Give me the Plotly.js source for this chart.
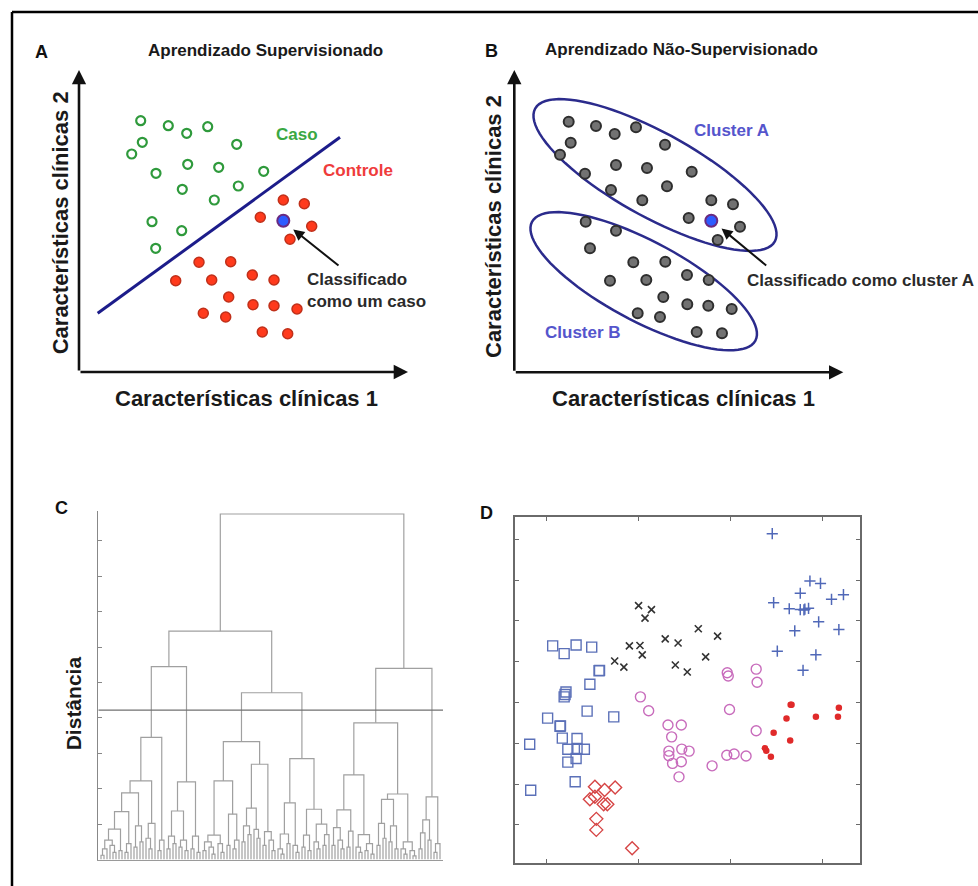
<!DOCTYPE html>
<html><head><meta charset="utf-8">
<script src="https://cdn.plot.ly/plotly-3.0.1.min.js"></script>
<style>html,body{margin:0;padding:0;background:#fff}#chart{width:978px;height:886px}</style>
</head><body><div id="chart"></div>
<script>
// ---------- Panel A : supervised learning ----------
const caseX = [6.17,8.93,10.77,12.87,6.33,5.27,15.77,7.70,10.87,13.97,18.47,10.33,15.93,13.53,7.30,10.27,7.67];
const caseY = [25.13,24.63,23.87,24.53,22.97,21.80,22.77,19.87,20.77,20.47,20.07,18.27,18.60,17.20,15.03,14.13,12.37];
const ctrlX = [20.43,22.53,18.13,23.27,21.10,12.00,15.17,9.67,13.27,17.33,19.50,14.97,17.40,19.50,21.80,12.43,14.67,18.33,20.87];
const ctrlY = [17.20,16.83,15.47,14.57,13.27,10.97,11.03,9.13,9.20,9.70,9.20,7.50,6.73,6.63,6.30,5.87,5.50,4.00,3.83];
const newPointA = [20.43, 15.13];
const boundaryX = [1.87, 26.10];
const boundaryY = [5.87, 23.47];

// ---------- Panel B : unsupervised learning ----------
const clusterAX = [5.44,8.17,10.04,12.17,5.64,4.57,15.07,7.07,10.17,13.27,17.74,9.67,15.27,12.80,19.70,21.87,17.44,22.57,20.34];
const clusterAY = [25.06,24.63,23.83,24.50,22.96,21.76,22.76,19.86,20.73,20.43,20.06,18.23,18.60,17.20,17.20,16.80,15.43,14.56,13.23];
const clusterBX = [7.14,10.17,7.57,11.90,15.10,9.57,13.20,17.27,19.44,14.90,17.30,19.40,21.74,12.34,14.57,18.24,20.77];
const clusterBY = [15.06,14.16,12.40,11.00,11.06,9.16,9.23,9.73,9.23,7.53,6.80,6.66,6.33,5.90,5.53,4.03,3.90];
const newPointB = [19.70, 15.16];
// ellipse: centre x, centre y, semi-major, semi-minor, angle (deg)
const ellipseA = [14.07, 19.73, 13.7, 4.2, -29];
const ellipseB = [12.94, 9.11, 12.65, 4.0, -28];

// ---------- Panel C : dendrogram (node = [height, left, right], leaf = 0) ----------
const g1 = [0.55,[0.3,[0.12,0,0],0],[0.4,0,[0.2,0,0]]];
const g2 = [0.25,0,0];
const g3 = [0.45,[0.2,0,0],0];
const g4 = [0.95,[0.35,0,0],[0.5,0,0]];
const g5 = [1.02,[0.6,0,[0.3,0,0]],0];
const g6 = [0.55,[0.25,0,0],0];
const g7 = [0.66,[0.3,0,0],[0.45,0,0]];
const g8 = [0.55,[0.35,0,0],[0.25,0,0]];
const g9 = [0.66,[0.3,0,0],[0.2,0,0]];
const g10 = [0.5,[0.25,0,0],[0.35,0,[0.15,0,0]]];
const g11 = [0.45,0,[0.2,0,0]];
const g12 = [0.4,0,0];
const g13 = [0.55,[0.3,0,0],0];
const g14 = [0.95,[0.5,0,0],[0.7,0,0]];
const g15 = [0.85,0,[0.6,0,0]];
const g16 = [0.79,[0.4,0,0],[0.55,0,[0.25,0,0]]];
const g17 = [0.72,[0.3,0,[0.15,0,0]],[0.45,0,0]];
const g18 = [0.4,0,[0.2,0,0]];
const g19 = [0.69,[0.35,0,0],[0.25,0,0]];
const g20 = [1.0,[0.5,0,[0.3,0,0]],[0.7,[0.4,0,0],0]];
const g21 = [1.4,[0.9,[0.4,0,0],[0.55,0,[0.3,0,0]]],[0.8,[0.35,0,0],0]];
const g22 = [0.7,[0.35,0,[0.2,0,0]],[0.45,[0.25,0,0],[0.15,0,0]]];
const g23 = [1.70,[1.02,[0.4,0,0],[0.6,0,0]],[0.95,[0.5,0,0],[0.3,0,0]]];
const g24 = [0.5,[0.3,0,[0.15,0,0]],[0.25,0,[0.1,0,0]]];
const g25 = [1.12,[0.75,[0.3,0,0],0],[0.55,0,0]];
const g26 = [0.45,[0.2,0,0],0];
const LLL = [3.45,[2.22,[1.88,[1.35,[0.86,g1,g2],g3],g4],g5],g6];
const LLR = [2.19,[1.37,g7,g8],g9];
const LRL = [3.33,[2.22,[0.69,g10,g11],[1.28,g12,g13]],[2.69,[1.45,g14,g15],g16]];
const LRR = [2.85,[1.6,g17,g18],[1.42,g19,g20]];
const RL = [3.86,[2.39,g21,g22],[1.85,g23,g24]];
const RR = [1.77,g25,g26];
const dendroRoot = [9.76,[6.45,[5.45,LLL,LLR],[4.71,LRL,LRR]],[5.40,RL,RR]];
const cutHeight = 4.22;

// ---------- Panel D : clusters ----------
const sqX = [1.065,1.19,1.32,1.49,1.57,1.575,1.47,1.21,1.19,1.20,1.44,1.73,1.01,1.145,1.15,1.17,1.33,0.815,1.23,1.33,1.41,1.32,1.23,1.31,0.826];
const sqY = [5.39,5.20,5.41,5.36,4.78,4.79,4.45,4.26,4.14,4.20,3.79,3.65,3.62,3.42,3.43,3.13,3.12,2.98,2.855,2.855,2.855,2.63,2.54,2.06,1.85];
const xX = [2.00,2.14,2.07,2.65,2.86,2.29,2.43,1.90,2.015,2.04,2.73,1.74,1.84,2.40,2.53];
const xY = [6.375,6.28,6.07,5.81,5.63,5.56,5.46,5.39,5.40,5.17,5.12,5.02,4.87,4.92,4.75];
const plusX = [3.455,3.865,3.98,3.76,4.10,4.23,3.47,3.64,3.76,3.81,3.85,3.80,3.96,3.70,4.18,3.51,3.93,3.79];
const plusY = [8.14,6.98,6.92,6.68,6.53,6.645,6.45,6.30,6.28,6.29,6.31,6.27,5.98,5.76,5.79,5.26,5.17,4.79];
const ringX = [2.965,2.976,3.28,3.29,2.02,2.11,2.99,2.32,2.465,3.28,2.36,2.33,2.47,2.55,2.33,2.37,2.465,2.44,2.80,2.96,3.04,3.17];
const ringY = [4.73,4.65,4.82,4.50,4.14,3.80,3.83,3.45,3.45,3.31,3.16,2.81,2.86,2.81,2.70,2.51,2.55,2.18,2.45,2.71,2.74,2.69];
const dotX = [3.655,3.665,4.18,3.61,3.93,4.17,3.47,3.65,3.375,3.39,3.44];
const dotY = [3.95,3.95,3.875,3.61,3.65,3.65,3.26,3.07,2.88,2.82,2.67];
const diaX = [1.525,1.63,1.745,1.47,1.525,1.62,1.66,1.54,1.54,1.93];
const diaY = [1.94,1.86,1.92,1.63,1.69,1.51,1.51,1.15,0.88,0.43];

// ---------- helpers ----------
const W = 978, H = 886;
const fx = p => p / W, fy = p => 1 - p / H;
const FONT = 'Liberation Sans, Arial, sans-serif';

function ellipsePath(e) {
  const [cx, cy, a, b, deg] = e;
  const t = deg * Math.PI / 180, c = Math.cos(t), s = Math.sin(t);
  let d = '';
  for (let k = 0; k <= 90; k++) {
    const u = 2 * Math.PI * k / 90;
    const x = cx + a * c * Math.cos(u) - b * s * Math.sin(u);
    const y = cy + a * s * Math.cos(u) + b * c * Math.sin(u);
    d += (k ? 'L' : 'M') + x.toFixed(4) + ',' + y.toFixed(4);
  }
  return d + 'Z';
}

function buildDendro(tree) {
  const xs = [], ys = [];
  let leaf = 0;
  function walk(n) {
    if (n === 0) return {x: leaf++, h: 0};
    const [h, l, r] = n;
    const L = walk(l), R = walk(r);
    xs.push(L.x, L.x, R.x, R.x, null);
    ys.push(L.h, h, h, R.h, null);
    return {x: (L.x + R.x) / 2, h: h};
  }
  walk(tree);
  return {xs, ys, n: leaf};
}
const dendro = buildDendro(dendroRoot);

// ---------- traces ----------
const traces = [
  {x: caseX, y: caseY, xaxis: 'x', yaxis: 'y', mode: 'markers', type: 'scatter',
   marker: {symbol: 'circle-open', size: 9, color: '#2f9a3c', line: {width: 2.2}}},
  {x: ctrlX, y: ctrlY, xaxis: 'x', yaxis: 'y', mode: 'markers', type: 'scatter',
   marker: {symbol: 'circle', size: 10, color: '#ff3a1c', line: {color: '#c0301a', width: 1.5}}},
  {x: [newPointA[0]], y: [newPointA[1]], xaxis: 'x', yaxis: 'y', mode: 'markers', type: 'scatter',
   marker: {symbol: 'circle', size: 12, color: '#2d5bff', line: {color: '#6a2a80', width: 2}}},
  {x: clusterAX.concat(clusterBX), y: clusterAY.concat(clusterBY), xaxis: 'x2', yaxis: 'y2', mode: 'markers', type: 'scatter',
   marker: {symbol: 'circle', size: 10, color: '#727272', line: {color: '#2e2e2e', width: 2}}},
  {x: [newPointB[0]], y: [newPointB[1]], xaxis: 'x2', yaxis: 'y2', mode: 'markers', type: 'scatter',
   marker: {symbol: 'circle', size: 12, color: '#2d5bff', line: {color: '#6a2a80', width: 2}}},
  {x: dendro.xs, y: dendro.ys, xaxis: 'x3', yaxis: 'y3', mode: 'lines', type: 'scatter',
   line: {color: '#a0a0a0', width: 1.2}, connectgaps: false},
  {x: sqX, y: sqY, xaxis: 'x4', yaxis: 'y4', mode: 'markers', type: 'scatter',
   marker: {symbol: 'square-open', size: 10, color: '#5b70b8', line: {width: 1.4}}},
  {x: xX, y: xY, xaxis: 'x4', yaxis: 'y4', mode: 'markers', type: 'scatter',
   marker: {symbol: 'x-thin-open', size: 7, color: '#333333', line: {width: 1.6}}},
  {x: plusX, y: plusY, xaxis: 'x4', yaxis: 'y4', mode: 'markers', type: 'scatter',
   marker: {symbol: 'cross-thin-open', size: 8, color: '#5068b8', line: {width: 1.5}}},
  {x: ringX, y: ringY, xaxis: 'x4', yaxis: 'y4', mode: 'markers', type: 'scatter',
   marker: {symbol: 'circle-open', size: 10, color: '#c86cbc', line: {width: 1.4}}},
  {x: dotX, y: dotY, xaxis: 'x4', yaxis: 'y4', mode: 'markers', type: 'scatter',
   marker: {symbol: 'circle', size: 6.5, color: '#e02a2a'}},
  {x: diaX, y: diaY, xaxis: 'x4', yaxis: 'y4', mode: 'markers', type: 'scatter',
   marker: {symbol: 'diamond-open', size: 10, color: '#d64545', line: {width: 1.4}}}
];

// ---------- annotations ----------
function txt(x, y, text, size, opts) {
  return Object.assign({x: fx(x), y: fy(y), xref: 'paper', yref: 'paper', text: text, showarrow: false,
    xanchor: 'center', yanchor: 'middle', font: {family: FONT, size: size, color: '#1a1a1a'}}, opts || {});
}
function axisArrow(xr, yr, x, y) {
  return {x: x, y: y, ax: 0, ay: 0, xref: xr, yref: yr, axref: xr, ayref: yr, text: '', showarrow: true,
    arrowhead: 2, arrowsize: 1.1, arrowwidth: 2.6, arrowcolor: '#111', standoff: 0, startstandoff: 0};
}
function pointer(xr, yr, x, y, ax, ay) {
  return {x: x, y: y, ax: ax, ay: ay, xref: xr, yref: yr, axref: xr, ayref: yr, text: '', showarrow: true,
    arrowhead: 2, arrowsize: 1.1, arrowwidth: 2, arrowcolor: '#111', standoff: 2};
}
function dtxt(xr, yr, x, y, text, size, color, opts) {
  return Object.assign({x: x, y: y, xref: xr, yref: yr, text: '<b>' + text + '</b>', showarrow: false,
    xanchor: 'center', yanchor: 'middle', font: {family: FONT, size: size, color: color}}, opts || {});
}

const annotations = [
  txt(41.7, 51.7, '<b>A</b>', 18, {font: {family: FONT, size: 18, color: '#111'}}),
  txt(491.7, 50.7, '<b>B</b>', 18, {font: {family: FONT, size: 18, color: '#111'}}),
  txt(61.7, 508.3, '<b>C</b>', 18, {font: {family: FONT, size: 18, color: '#111'}}),
  txt(486.7, 513.3, '<b>D</b>', 18, {font: {family: FONT, size: 18, color: '#111'}}),
  txt(265.7, 50, '<b>Aprendizado Supervisionado</b>', 17),
  txt(681.7, 49.3, '<b>Aprendizado Não-Supervisionado</b>', 17),
  txt(246.7, 398.3, '<b>Características clínicas 1</b>', 22),
  txt(60, 223.3, '<b>Características clínicas 2</b>', 22, {textangle: -90}),
  txt(683.3, 398.3, '<b>Características clínicas 1</b>', 22),
  txt(493.3, 226.7, '<b>Características clínicas 2</b>', 22, {textangle: -90}),
  txt(73.3, 703, '<b>Distância</b>', 21, {textangle: -90}),
  axisArrow('x', 'y', 32.9, 0), axisArrow('x', 'y', 0, 30.2),
  axisArrow('x2', 'y2', 32.9, 0), axisArrow('x2', 'y2', 0, 30.23),
  pointer('x', 'y', 21.27, 14.37, 26.1, 10.53),
  pointer('x2', 'y2', 20.57, 14.5, 25.34, 10.56),
  dtxt('x', 'y', 21.77, 23.7, 'Caso', 17, '#3aa843'),
  dtxt('x', 'y', 27.93, 20.1, 'Controle', 17, '#ef3b3b'),
  dtxt('x', 'y', 22.6, 8.12, 'Classificado<br>como um caso', 17, '#2a2a2a', {xanchor: 'left', align: 'left'}),
  dtxt('x2', 'y2', 21.67, 24.13, 'Cluster A', 17, '#5555cc'),
  dtxt('x2', 'y2', 6.9, 3.96, 'Cluster B', 17, '#5555cc'),
  dtxt('x2', 'y2', 23.07, 9.23, 'Classificado como cluster A', 17, '#2a2a2a', {xanchor: 'left'})
];

const shapes = [
  {type: 'line', xref: 'x', yref: 'y', x0: boundaryX[0], y0: boundaryY[0], x1: boundaryX[1], y1: boundaryY[1],
   line: {color: '#1c1c8a', width: 3}, layer: 'below'},
  {type: 'path', xref: 'x2', yref: 'y2', path: ellipsePath(ellipseA), line: {color: '#2b2b8c', width: 2.5}, layer: 'below'},
  {type: 'path', xref: 'x2', yref: 'y2', path: ellipsePath(ellipseB), line: {color: '#2b2b8c', width: 2.5}, layer: 'below'},
  {type: 'line', xref: 'x3', yref: 'y3', x0: -0.9, x1: dendro.n, y0: cutHeight, y1: cutHeight,
   line: {color: '#707070', width: 1.3}},
  {type: 'line', xref: 'paper', yref: 'paper', x0: fx(12), x1: fx(990), y0: fy(12), y1: fy(12), line: {color: '#000', width: 2.5}},
  {type: 'line', xref: 'paper', yref: 'paper', x0: fx(12), x1: fx(12), y0: fy(12), y1: fy(900), line: {color: '#000', width: 2.5}}
];

const hidden = {visible: false, showgrid: false, zeroline: false, fixedrange: true};
const layout = {
  width: W, height: H, margin: {l: 0, r: 0, t: 0, b: 0, pad: 0},
  paper_bgcolor: '#fff', plot_bgcolor: 'rgba(0,0,0,0)', showlegend: false,
  xaxis: Object.assign({domain: [fx(79), fx(410)], range: [0, 33.1], anchor: 'y'}, hidden),
  yaxis: Object.assign({domain: [fy(372), fy(68)], range: [0, 30.4], anchor: 'x'}, hidden),
  xaxis2: Object.assign({domain: [fx(514.3), fx(845)], range: [0, 33.07], anchor: 'y2'}, hidden),
  yaxis2: Object.assign({domain: [fy(372.3), fy(68)], range: [0, 30.43], anchor: 'x2'}, hidden),
  xaxis3: {domain: [fx(98.3), fx(443)], range: [-0.9, dendro.n], anchor: 'y3', showline: true, linecolor: '#9a9a9a',
    linewidth: 1.5, ticks: '', showticklabels: false, showgrid: false, zeroline: false},
  yaxis3: {domain: [fy(859.5), fy(510.8)], range: [0, 9.85], anchor: 'x3', showline: true, linecolor: '#888',
    linewidth: 1.5, ticks: 'inside', ticklen: 4, tickwidth: 1, tickcolor: '#888', tick0: 0, dtick: 1,
    showticklabels: false, showgrid: false, zeroline: false},
  xaxis4: {domain: [fx(515), fx(860)], range: [0.655, 4.41], anchor: 'y4', showline: true, mirror: 'ticks',
    linecolor: '#6a6a6a', linewidth: 2, ticks: 'inside', ticklen: 4, tickcolor: '#6a6a6a', tick0: 0, dtick: 1,
    showticklabels: false, showgrid: false, zeroline: false},
  yaxis4: {domain: [fy(863.3), fy(516.7)], range: [0.061, 8.556], anchor: 'x4', showline: true, mirror: 'ticks',
    linecolor: '#6a6a6a', linewidth: 2, ticks: 'inside', ticklen: 4, tickcolor: '#6a6a6a', tick0: 0, dtick: 1,
    showticklabels: false, showgrid: false, zeroline: false},
  annotations: annotations,
  shapes: shapes
};

Plotly.newPlot('chart', traces, layout, {staticPlot: true, displayModeBar: false});
</script>
</body></html>
